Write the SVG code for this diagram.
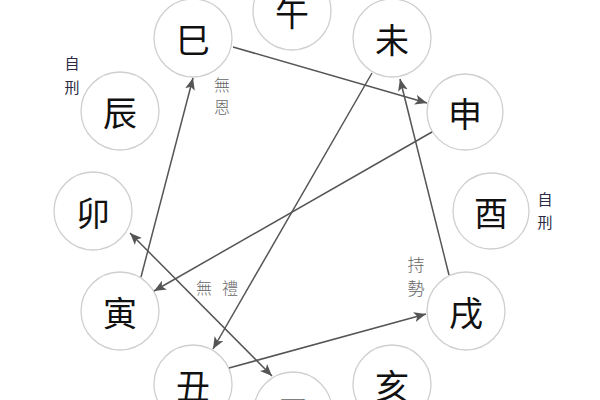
<svg xmlns="http://www.w3.org/2000/svg" width="600" height="400" viewBox="0 0 600 400">
<style>
.node circle{fill:#fff;stroke:#cfcfcf;stroke-width:1.3}
.node text{font-family:"Noto Sans CJK TC","Noto Sans CJK SC",sans-serif;font-size:34px;fill:#111;text-anchor:middle;dominant-baseline:central}
.conn line{stroke:#555;stroke-width:1.5;fill:none}
.lbl{font-family:"Noto Sans CJK TC","Noto Sans CJK SC",sans-serif;text-anchor:middle}
.dark{fill:#2b2b45;font-size:15px}
.gray{fill:#666;font-size:16px;font-weight:300}
</style>
<defs>
<marker id="ah" viewBox="0 0 12 10" refX="12" refY="5" markerWidth="12" markerHeight="10" markerUnits="userSpaceOnUse" orient="auto-start-reverse">
<path d="M0,0 L12,5 L0,10 L3,5 z" fill="#555"/>
</marker>
</defs>
<rect width="600" height="400" fill="#fff"/>
<g id="n-wu" class="node"><circle cx="292" cy="11" r="39"/><text x="292" y="11">午</text></g>
<g id="n-wei" class="node"><circle cx="392" cy="38" r="39"/><text x="392" y="38">未</text></g>
<g id="n-shen" class="node"><circle cx="465" cy="112" r="38"/><text x="465" y="112">申</text></g>
<g id="n-you" class="node"><circle cx="491" cy="211" r="38"/><text x="491" y="211">酉</text></g>
<g id="n-xu" class="node"><circle cx="466" cy="311" r="39"/><text x="466" y="311">戌</text></g>
<g id="n-hai" class="node"><circle cx="392" cy="384" r="39"/><text x="392" y="384">亥</text></g>
<g id="n-zi" class="node"><circle cx="293" cy="411" r="39"/><text x="293" y="411">子</text></g>
<g id="n-chou" class="node"><circle cx="193" cy="384" r="39"/><text x="193" y="384">丑</text></g>
<g id="n-yin" class="node"><circle cx="120" cy="311" r="39"/><text x="120" y="311">寅</text></g>
<g id="n-mao" class="node"><circle cx="93" cy="211" r="39"/><text x="93" y="211">卯</text></g>
<g id="n-chen" class="node"><circle cx="120" cy="111" r="39"/><text x="120" y="111">辰</text></g>
<g id="n-si" class="node"><circle cx="193" cy="38" r="39"/><text x="193" y="38">巳</text></g>
<g id="connectors" class="conn">
<line x1="233" y1="47" x2="427" y2="103" marker-end="url(#ah)"/>
<line x1="432" y1="132" x2="154" y2="291" marker-end="url(#ah)"/>
<line x1="141" y1="277" x2="193" y2="78" marker-end="url(#ah)"/>
<line x1="372" y1="73" x2="213" y2="349" marker-end="url(#ah)"/>
<line x1="229" y1="368" x2="426" y2="314" marker-end="url(#ah)"/>
<line x1="449" y1="275" x2="400" y2="79" marker-end="url(#ah)"/>
<line x1="130" y1="233" x2="272" y2="376" marker-start="url(#ah)" marker-end="url(#ah)"/>
</g>
<g id="labels">
<text class="lbl dark" x="72" y="69">自</text>
<text class="lbl dark" x="72" y="93">刑</text>
<text class="lbl gray" x="222" y="91">無</text>
<text class="lbl gray" x="222" y="113">恩</text>
<text class="lbl dark" x="545" y="205">自</text>
<text class="lbl dark" x="545" y="228">刑</text>
<text class="lbl gray" x="416" y="271" style="font-size:17px">持</text>
<text class="lbl gray" x="416" y="295" style="font-size:17px">勢</text>
<text class="lbl gray" x="204" y="294">無</text>
<text class="lbl gray" x="230" y="294">禮</text>
</g>
</svg>
